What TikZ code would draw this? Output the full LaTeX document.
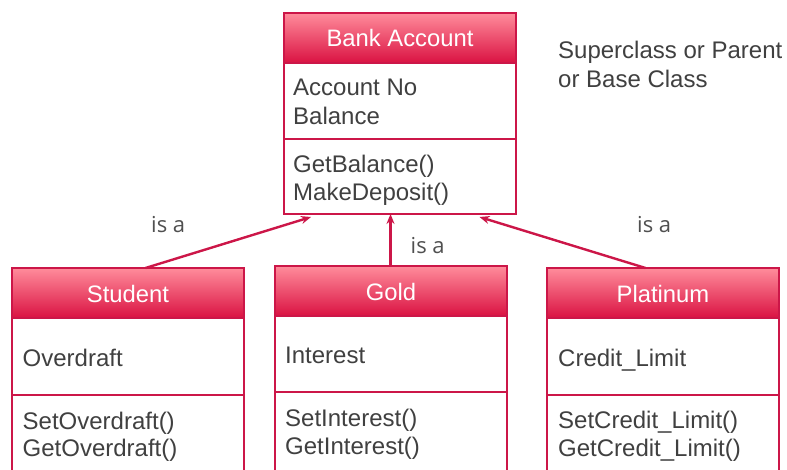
\documentclass[tikz,border=0pt]{standalone}
\usepackage{fontspec}
\setmainfont{Liberation Sans}
\newfontfamily\isafont{Open Sans}
\usetikzlibrary{arrows.meta,calc}
\definecolor{crim}{RGB}{204,22,72}
\definecolor{hdtop}{RGB}{255,140,155}
\definecolor{hdbot}{RGB}{218,18,66}
\definecolor{txt}{RGB}{64,64,64}
\definecolor{isatxt}{RGB}{80,80,80}
\begin{document}
\begin{tikzpicture}[x=1pt,y=-1pt,
  hdr/.style={draw=crim, line width=2pt, top color=hdtop, bottom color=hdbot,
    anchor=north west, minimum width=232, minimum height=50, inner sep=0, outer sep=0},
  comp/.style={draw=crim, line width=2pt, fill=white, anchor=north west,
    minimum width=232, inner sep=0, outer sep=0},
  htext/.style={font=\fontsize{23.8}{28}\selectfont, text=white, inner sep=0, anchor=base},
  body/.style={font=\fontsize{24}{28}\selectfont, text=txt, inner sep=0, anchor=base west},
  isa/.style={font=\isafont\fontsize{22}{26}\selectfont, text=isatxt, inner sep=0, anchor=base west},
  inh/.style={draw=crim, line width=2.4pt, -{Stealth[length=10pt,width=8pt]}}]
\clip (0,0) rectangle (787,470);
\fill[white] (0,0) rectangle (787,470);

% Bank Account
\node[hdr] (bah) at (284,13) {};
\node[comp, minimum height=76] (baa) at (bah.south west) {};
\node[comp, minimum height=75] (bam) at (baa.south west) {};
\node[htext] (bat) at (400,46.5) {Bank Account};
\node[body] (ba1) at (293,96) {Account No};
\node[body] (ba2) at (293,124.5) {Balance};
\node[body] (ba3) at (293,172.5) {GetBalance()};
\node[body] (ba4) at (293,201) {MakeDeposit()};

% Student
\node[hdr] (sth) at (12,268) {};
\node[comp, minimum height=77] (sta) at (sth.south west) {};
\node[comp, minimum height=90] (stm) at (sta.south west) {};
\node[htext] (stt) at (128,302.5) {Student};
\node[body] (st1) at (22.5,366) {Overdraft};
\node[body] (st2) at (22.5,429) {SetOverdraft()};
\node[body] (st3) at (22.5,456.5) {GetOverdraft()};

% Gold
\node[hdr] (goh) at (275,266) {};
\node[comp, minimum height=76] (goa) at (goh.south west) {};
\node[comp, minimum height=90] (gom) at (goa.south west) {};
\node[htext] (got) at (391,301) {Gold};
\node[body] (go1) at (285,363.5) {Interest};
\node[body] (go2) at (285,426.5) {SetInterest()};
\node[body] (go3) at (285,454.5) {GetInterest()};

% Platinum
\node[hdr] (plh) at (547,268) {};
\node[comp, minimum height=77] (pla) at (plh.south west) {};
\node[comp, minimum height=90] (plm) at (pla.south west) {};
\node[htext] (plt) at (663,302.5) {Platinum};
\node[body] (pl1) at (558,366) {Credit\_Limit};
\node[body] (pl2) at (558,428) {SetCredit\_Limit()};
\node[body] (pl3) at (558,456) {GetCredit\_Limit()};

% Superclass note
\node[body] (sc1) at (558,59) {Superclass or Parent};
\node[body] (sc2) at (558,88) {or Base Class};

% inheritance arrows
\coordinate (s0) at ($(sth.north west)+(133.5,0)$);
\coordinate (s1) at ($(bam.south west)+(27,3)$);
\coordinate (g0) at ($(goh.north west)+(115.5,0)$);
\coordinate (g1) at ($(bam.south west)+(106.5,0)$);
\coordinate (p0) at ($(plh.north west)+(98.5,0)$);
\coordinate (p1) at ($(bam.south west)+(195.5,3)$);
\draw[inh] (s0) -- (s1);
\draw[inh] (g0) -- (g1);
\draw[inh] (p0) -- (p1);

\node[isa] (i1) at (151,233) {is a};
\node[isa] (i2) at (410.5,254) {is a};
\node[isa] (i3) at (637,233) {is a};
\end{tikzpicture}
\end{document}
